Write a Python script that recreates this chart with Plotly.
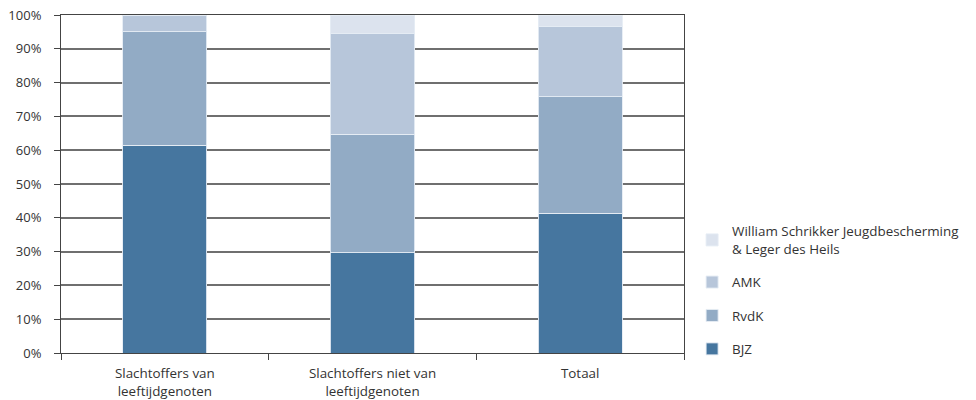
import plotly.graph_objects as go

categories = ["Slachtoffers van<br>leeftijdgenoten", "Slachtoffers niet van<br>leeftijdgenoten", "Totaal"]
series_names = ["BJZ", "RvdK", "AMK", "William Schrikker Jeugdbescherming<br>& Leger des Heils"]
bjz = [61.5, 29.6, 41.4]
rvdk = [33.5, 35.1, 34.4]
amk = [5.0, 29.8, 20.7]
wsj = [0.0, 5.5, 3.5]
colors = ["#46769f", "#92abc5", "#b7c6da", "#dce3ee"]
tick_vals = [0, 10, 20, 30, 40, 50, 60, 70, 80, 90, 100]
tick_text = [f"{v}%" for v in tick_vals]

fig = go.Figure()
for i, (name, vals) in enumerate(zip(series_names, [bjz, rvdk, amk, wsj])):
    fig.add_trace(go.Bar(
        x=categories, y=vals, name=name,
        marker=dict(color=colors[i], line=dict(color="rgba(230,236,244,0.9)", width=1)),
        legendgroup=f"g{i}", legendrank=100 - i,
    ))

font = "Open Sans, Lato, sans-serif"
fig.update_layout(
    barmode="stack",
    bargap=0.595,
    width=976, height=400,
    margin=dict(l=61, r=292, t=15, b=47, autoexpand=False),
    plot_bgcolor="white", paper_bgcolor="white",
    font=dict(family=font, size=13, color="#333333"),
    showlegend=True,
    legend=dict(
        x=1.013, xanchor="left", y=-0.0355, yanchor="bottom",
        traceorder="grouped", tracegroupgap=13,
        font=dict(size=13.4, color="#333333"),
        itemwidth=30,
    ),
    xaxis=dict(
        type="category", tickson="boundaries", ticks="outside", ticklen=6,
        tickcolor="#444444", showline=True, linecolor="#444444", linewidth=1,
        mirror=True, showgrid=False, tickfont=dict(size=13.4, color="#333333"),
        automargin=False, ticklabelstandoff=8,
    ),
    yaxis=dict(
        range=[0, 100], tickmode="array", tickvals=tick_vals, ticktext=tick_text,
        ticks="outside", ticklen=6, tickcolor="#444444",
        showline=True, linecolor="#444444", linewidth=1, mirror=True,
        showgrid=True, gridcolor="#6f6f6f", gridwidth=1.5,
        tickfont=dict(size=13, color="#333333"),
        zeroline=False, automargin=False, ticklabelstandoff=10,
    ),
)

fig.write_html("out.html", config={"displayModeBar": False},
               post_script="document.body.style.margin='0';")
